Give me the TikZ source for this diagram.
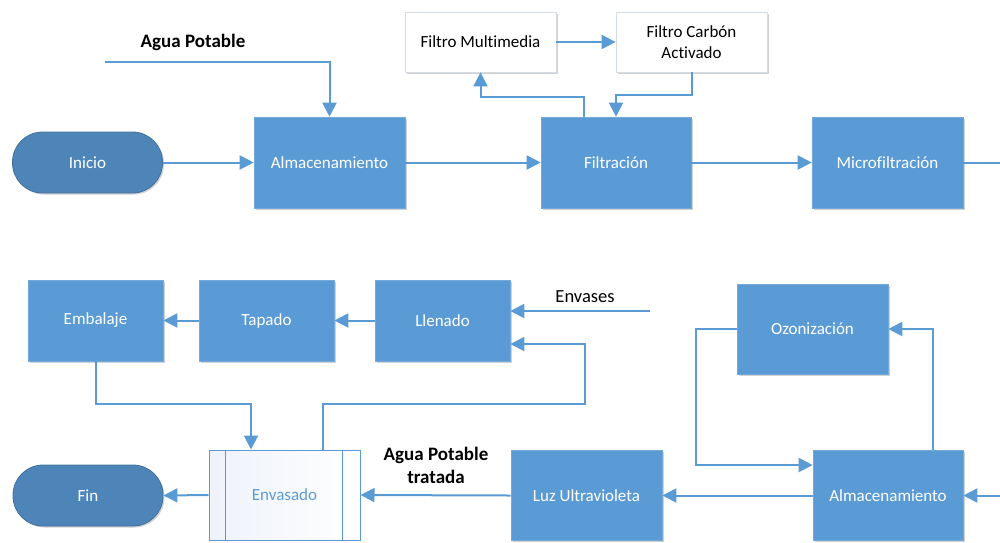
\documentclass[tikz,border=0pt]{standalone}
\usepackage{fontspec}
\setmainfont[Ligatures=NoCommon]{Carlito}
\usetikzlibrary{arrows.meta,shadows}
\definecolor{boxblue}{HTML}{5B9BD5}
\definecolor{termblue}{HTML}{4D85B9}
\definecolor{termedge}{HTML}{41719C}
\definecolor{graybd}{HTML}{D5DCE4}
\definecolor{envfill}{HTML}{EEF2F9}
\tikzset{
  shad/.style={drop shadow={shadow xshift=1.5pt,shadow yshift=-1.5pt,opacity=0.18,fill=black}},
  procbox/.style={rectangle,fill=boxblue,draw=boxblue!85!white,line width=0.6pt,text=white,inner sep=0pt,align=center,shad},
  whitebox/.style={rectangle,fill=white,draw=graybd,line width=0.8pt,text=black,inner sep=0pt,align=center,shad},
  termbox/.style={rectangle,rounded corners=30pt,fill=termblue,draw=termedge,line width=0.8pt,text=white,inner sep=0pt,minimum width=150pt,minimum height=61pt,shad},
  lbl/.style={font=\fontsize{19}{23}\selectfont\bfseries,text=black,align=center,inner sep=0pt},
  conn/.style={draw=boxblue,line width=2pt},
  arr/.style={conn,-{Triangle[length=14pt,width=14pt]}}
}
\begin{document}
\begin{tikzpicture}[x=1pt,y=-1pt,font=\fontsize{17}{20.5}\selectfont]
\useasboundingbox (0,0) rectangle (1000,542);
% top row
\node[termbox] (inicio) at (87.5,162.5) {Inicio};
\node[procbox,minimum width=151pt,minimum height=91pt] (alm1) at (329.5,162.5) {Almacenamiento};
\node[procbox,minimum width=150pt,minimum height=91pt] (filt) at (616,162.5) {Filtración};
\node[procbox,minimum width=151pt,minimum height=91pt] (micro) at (887.5,162.5) {Microfiltración};
\node[whitebox,minimum width=151pt,minimum height=60pt] (fm) at (480.5,42) {Filtro Multimedia};
\node[whitebox,minimum width=151pt,minimum height=60pt] (fc) at (691.5,42) {Filtro Carbón\\Activado};
\node[lbl] (lap) at (193,42) {Agua Potable};
\coordinate (apin) at (105,62);
\coordinate (microut) at (1000,162.5);
% bottom row
\node[procbox,minimum width=135pt,minimum height=81pt] (emb) at (95.5,320.5) {Embalaje};
\node[procbox,minimum width=135pt,minimum height=81pt] (tap) at (266.5,320.5) {Tapado};
\node[procbox,minimum width=135pt,minimum height=81pt] (llen) at (442.5,320.5) {Llenado};
\node[procbox,minimum width=151pt,minimum height=90pt] (oz) at (812.5,329) {Ozonización};
\node[procbox,minimum width=150pt,minimum height=90pt] (alm2) at (888,495.5) {Almacenamiento};
\node[procbox,minimum width=151pt,minimum height=90pt] (luz) at (586.5,495.5) {Luz Ultravioleta};
\node[rectangle,left color=envfill,right color=white,draw=boxblue,line width=1pt,text=boxblue,inner sep=0pt,minimum width=151pt,minimum height=90pt] (env) at (284.5,495) {Envasado};
\draw[draw=boxblue,line width=1pt] ([xshift=17pt]env.north west) -- ([xshift=17pt]env.south west);
\draw[draw=boxblue,line width=1pt] ([xshift=-18pt]env.north east) -- ([xshift=-18pt]env.south east);
\node[termbox] (fin) at (88,495.5) {Fin};
\node[lbl] (lapt) at (436,465.5) {Agua Potable\\tratada};
\node[inner sep=0pt,font=\fontsize{18.5}{22}\selectfont] (lenv) at (585,297) {Envases};
\coordinate (envin) at (650,311);
\coordinate (alm2in) at (1000,495.5);
% connectors top
\draw[arr] (inicio.east) -- (alm1.west);
\draw[arr] (apin) -| (alm1.north);
\draw[arr] (alm1.east) -- (filt.west);
\draw[arr] (filt.east) -- (micro.west);
\draw[conn] (micro.east) -- (microut);
\draw[arr] (fm.east) -- (fc.west);
\draw[arr] ([xshift=-32pt]filt.north) -- ++(0,-20) -| (fm.south);
\draw[arr] (fc.south) -- ++(0,23) -| (filt.north);
% connectors bottom
\draw[arr] (llen.west) -- (tap.east);
\draw[arr] (tap.west) -- (emb.east);
\draw[arr] (envin) -- (envin -| llen.east);
\draw[arr] ([xshift=38.5pt]env.north) -- ++(0,-46) -- ++(262,0) |- ([yshift=-23.5pt]llen.east);
\draw[arr] (emb.south) -- ++(0,43) -| ([xshift=-33.5pt]env.north);
\draw[arr] (env.west) -- (fin.east);
\draw[arr] (luz.west) -- (env.east);
\draw[arr] (alm2.west) -- (luz.east);
\draw[arr] (alm2in) -- (alm2.east);
\draw[arr] (oz.west) -- ++(-41,0) |- ([yshift=30.5pt]alm2.west);
\draw[arr] ([xshift=45pt]alm2.north) |- (oz.east);
\end{tikzpicture}
\end{document}
